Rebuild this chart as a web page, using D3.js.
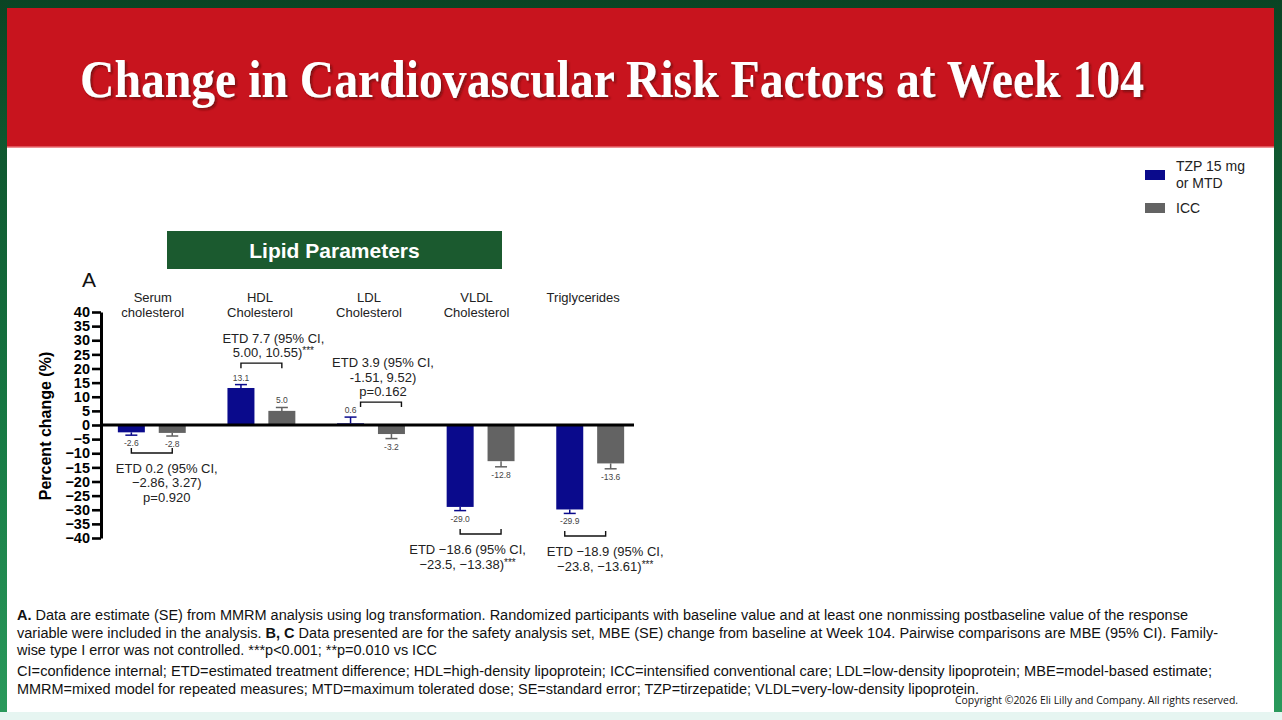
<!DOCTYPE html>
<html>
<head>
<meta charset="utf-8">
<script src="https://cdn.jsdelivr.net/npm/d3@7"></script>
<style>
  body { margin: 0; background: #fff; }
  svg { display: block; }
</style>
</head>
<body>
<script>
// data
const categories = ["Serum cholesterol", "HDL Cholesterol", "LDL Cholesterol", "VLDL Cholesterol", "Triglycerides"];
const categoryLines = [["Serum", "cholesterol"], ["HDL", "Cholesterol"], ["LDL", "Cholesterol"], ["VLDL", "Cholesterol"], ["Triglycerides"]];
const series = ["TZP 15 mg or MTD", "ICC"];
const tzpValues = [-2.6, 13.1, 0.6, -29.0, -29.9];
const iccValues = [-2.8, 5.0, -3.2, -12.8, -13.6];
const tzpSE = [1.0, 1.2, 2.2, 1.3, 1.4];
const iccSE = [1.1, 1.2, 1.6, 2.0, 1.9];
const yTicks = d3.range(-40, 41, 5);
const etdText = [
  ["ETD 0.2 (95% CI,", "\u22122.86, 3.27)", "p=0.920"],
  ["ETD 7.7 (95% CI,", "5.00, 10.55)***"],
  ["ETD 3.9 (95% CI,", "-1.51, 9.52)", "p=0.162"],
  ["ETD \u221218.6 (95% CI,", "\u221223.5, \u221213.38)***"],
  ["ETD \u221218.9 (95% CI,", "\u221223.8, \u221213.61)***"]
];
// where each ETD bracket sits (y in %), text / label shifts
const etdBracketAt = [-9.9, 21.9, 8.1, -38.6, -39.3];
const etdTextShift = [15, 12, 12, -13, 15];
const bracketShift = [0, 0, 10, 0, -5];
const labelShift = [1, -1.5, -2, -4, -7];

const W = 1282, H = 720;
const colors = ["#0a0a8c", "#636363"];
const font = "'Liberation Sans', Arial, sans-serif";

const svg = d3.select("body").append("svg")
    .attr("width", W)
    .attr("height", H);

// slide background
const grad = svg.append("defs").append("linearGradient")
    .attr("id", "bg").attr("x1", 0).attr("y1", 0).attr("x2", 0).attr("y2", 1);
grad.append("stop").attr("offset", "0%").attr("stop-color", "#0a4424");
grad.append("stop").attr("offset", "60%").attr("stop-color", "#177a44");
grad.append("stop").attr("offset", "100%").attr("stop-color", "#2a9a5c");
svg.append("rect").attr("width", W).attr("height", H).attr("fill", "url(#bg)");
svg.append("rect").attr("x", 0).attr("y", 712).attr("width", W).attr("height", 8).attr("fill", "#e6f5f1");

svg.append("rect").attr("x", 7).attr("y", 8).attr("width", 1267).attr("height", 704).attr("fill", "#fff");
svg.append("rect").attr("x", 7).attr("y", 8).attr("width", 1267).attr("height", 139).attr("fill", "#c8141e");
svg.append("line").attr("x1", 7).attr("x2", 1274).attr("y1", 147).attr("y2", 147)
    .attr("stroke", "#e86a70").attr("stroke-width", 1.5);

// title
const shadow = svg.append("filter").attr("id", "sh");
shadow.append("feDropShadow").attr("dx", 2).attr("dy", 2).attr("stdDeviation", 1)
    .attr("flood-color", "#6a0a0e").attr("flood-opacity", 0.8);
svg.append("text")
    .text("Change in Cardiovascular Risk Factors at Week 104")
    .attr("x", 80).attr("y", 97)
    .attr("textLength", 1064).attr("lengthAdjust", "spacingAndGlyphs")
    .style("font-family", "'Liberation Serif', 'Times New Roman', serif")
    .style("font-weight", "bold")
    .style("font-size", "53px")
    .attr("fill", "#fff")
    .attr("filter", "url(#sh)");

// panel header
svg.append("rect").attr("x", 167).attr("y", 231).attr("width", 335).attr("height", 38).attr("fill", "#1b5a2f");
svg.append("text").text("Lipid Parameters")
    .attr("x", 334.5).attr("y", 258)
    .attr("text-anchor", "middle")
    .style("font-family", font)
    .style("font-weight", "bold").style("font-size", "21px")
    .attr("fill", "#fff");

svg.append("text").text("A")
    .attr("x", 82).attr("y", 287)
    .style("font-family", font)
    .style("font-size", "21px").attr("fill", "#111");

// scales
const y = d3.scaleLinear().domain([-40, 40]).range([538, 312]);
const x0 = d3.scaleBand().domain(categories).range([97, 645]);
const x1 = d3.scaleBand().domain(series).range([0, x0.bandwidth()])
    .paddingInner(0.34).paddingOuter(0.51);

// y axis
const yAxis = svg.append("g")
    .attr("transform", "translate(101,0)")
    .call(d3.axisLeft(y).tickValues(yTicks).tickSize(9).tickPadding(2).tickSizeOuter(0));
yAxis.select(".domain").attr("stroke", "#000").attr("stroke-width", 3);
yAxis.selectAll(".tick line").attr("stroke", "#000").attr("stroke-width", 2.6);
yAxis.selectAll(".tick text")
    .style("font-family", font).style("font-weight", "bold").style("font-size", "14.5px")
    .attr("fill", "#000");

svg.append("text").text("Percent change (%)")
    .attr("transform", `translate(51,${y(0) + 1}) rotate(-90)`)
    .attr("text-anchor", "middle")
    .style("font-family", font).style("font-weight", "bold").style("font-size", "16px")
    .attr("fill", "#000");

// category labels
categoryLines.forEach((lines, i) => {
    const cx = x0(categories[i]) + x0.bandwidth() / 2 + labelShift[i];
    svg.append("text")
        .attr("y", 302)
        .attr("text-anchor", "middle")
        .style("font-family", font).style("font-size", "13px")
        .attr("fill", "#222")
        .selectAll("tspan")
        .data(lines)
        .enter()
        .append("tspan")
        .attr("x", cx)
        .attr("dy", (d, j) => j === 0 ? 0 : 14.5)
        .text(d => d);
});

// bars
const rows = categories.map((c, i) => ({
    cat: c,
    vals: [
        { s: series[0], v: tzpValues[i], se: tzpSE[i], k: 0 },
        { s: series[1], v: iccValues[i], se: iccSE[i], k: 1 }
    ]
}));

const groups = svg.selectAll("g.grp")
    .data(rows)
    .enter()
    .append("g")
    .attr("class", "grp")
    .attr("transform", d => `translate(${x0(d.cat)},0)`);

groups.selectAll("rect")
    .data(d => d.vals)
    .enter()
    .append("rect")
    .attr("x", d => x1(d.s))
    .attr("y", d => y(Math.max(0, d.v)))
    .attr("width", x1.bandwidth())
    .attr("height", d => Math.abs(y(d.v) - y(0)))
    .attr("fill", d => colors[d.k]);

// error bars
const errEnd = d => d.v >= 0 ? d.v + d.se : d.v - d.se;
groups.selectAll("line.err")
    .data(d => d.vals)
    .enter()
    .append("line")
    .attr("class", "err")
    .attr("x1", d => x1(d.s) + x1.bandwidth() / 2)
    .attr("x2", d => x1(d.s) + x1.bandwidth() / 2)
    .attr("y1", d => y(d.v))
    .attr("y2", d => y(errEnd(d)))
    .attr("stroke", d => colors[d.k]).attr("stroke-width", 1.5);
groups.selectAll("line.cap")
    .data(d => d.vals)
    .enter()
    .append("line")
    .attr("class", "cap")
    .attr("x1", d => x1(d.s) + x1.bandwidth() / 2 - 6)
    .attr("x2", d => x1(d.s) + x1.bandwidth() / 2 + 6)
    .attr("y1", d => y(errEnd(d)))
    .attr("y2", d => y(errEnd(d)))
    .attr("stroke", d => colors[d.k]).attr("stroke-width", 1.5);

groups.selectAll("text.val")
    .data(d => d.vals)
    .enter()
    .append("text")
    .attr("class", "val")
    .attr("x", d => x1(d.s) + x1.bandwidth() / 2)
    .attr("y", d => d.v >= 0 ? y(errEnd(d)) - 4 : y(errEnd(d)) + 11)
    .attr("text-anchor", "middle")
    .style("font-family", font).style("font-size", "8.5px")
    .attr("fill", "#444")
    .text(d => d.v.toFixed(1));

// zero line
svg.append("line")
    .attr("x1", 101).attr("x2", 634)
    .attr("y1", y(0)).attr("y2", y(0))
    .attr("stroke", "#000").attr("stroke-width", 3);

// ETD brackets and labels
rows.forEach((r, i) => {
    const gx = x0(r.cat);
    const xa = gx + x1(series[0]) + x1.bandwidth() / 2 + bracketShift[i];
    const xb = gx + x1(series[1]) + x1.bandwidth() / 2 + bracketShift[i];
    const by = y(etdBracketAt[i]);
    const below = etdBracketAt[i] < 0;
    const tickDir = below ? -5 : 5;
    svg.append("path")
        .attr("d", `M${xa},${by + tickDir}V${by}H${xb}V${by + tickDir}`)
        .attr("fill", "none").attr("stroke", "#111").attr("stroke-width", 1.4);

    const cx = gx + x0.bandwidth() / 2 + etdTextShift[i];
    const lines = etdText[i];
    const first = below ? by + 20 : by - 6 - (lines.length - 1) * 14.5;
    const t = svg.append("text")
        .attr("text-anchor", "middle")
        .style("font-family", font).style("font-size", "13px")
        .attr("fill", "#222");
    lines.forEach((ln, j) => {
        const stars = ln.endsWith("***");
        const main = stars ? ln.slice(0, -3) : ln;
        const ts = t.append("tspan").attr("x", cx).attr("y", first + j * 14.5);
        ts.append("tspan").text(main);
        if (stars) {
            ts.append("tspan").text("***").style("font-size", "10px").attr("dy", -3);
        }
    });
});

// legend
const legend = svg.append("g").attr("transform", "translate(1145,0)");
legend.append("rect").attr("x", 0).attr("y", 170).attr("width", 20).attr("height", 10).attr("fill", colors[0]);
legend.append("rect").attr("x", 0).attr("y", 203).attr("width", 20).attr("height", 10).attr("fill", colors[1]);
const legText = legend.append("text")
    .style("font-family", font).style("font-size", "14px").attr("fill", "#222");
legText.append("tspan").attr("x", 31).attr("y", 171).text("TZP 15 mg");
legText.append("tspan").attr("x", 31).attr("y", 188).text("or MTD");
legend.append("text").attr("x", 31).attr("y", 213).text("ICC")
    .style("font-family", font).style("font-size", "14px").attr("fill", "#222");

// footnotes
const notes = [
    { y: 620, len: 1171, parts: [["A.", true], [" Data are estimate (SE) from MMRM analysis using log transformation. Randomized participants with baseline value and at least one nonmissing postbaseline value of the response", false]] },
    { y: 638, len: 1201, parts: [["variable were included in the analysis. ", false], ["B, C", true], [" Data presented are for the safety analysis set, MBE (SE) change from baseline at Week 104. Pairwise comparisons are MBE (95% CI). Family-", false]] },
    { y: 655, len: 420, parts: [["wise type I error was not controlled. ***p<0.001; **p=0.010 vs ICC", false]] },
    { y: 676, len: 1195, parts: [["CI=confidence internal; ETD=estimated treatment difference; HDL=high-density lipoprotein; ICC=intensified conventional care; LDL=low-density lipoprotein; MBE=model-based estimate;", false]] },
    { y: 694, len: 962, parts: [["MMRM=mixed model for repeated measures; MTD=maximum tolerated dose; SE=standard error; TZP=tirzepatide; VLDL=very-low-density lipoprotein.", false]] }
];
notes.forEach(n => {
    const t = svg.append("text")
        .attr("x", 17).attr("y", n.y)
        .attr("textLength", n.len).attr("lengthAdjust", "spacingAndGlyphs")
        .style("font-family", font).style("font-size", "14px")
        .attr("fill", "#111");
    n.parts.forEach(p => {
        t.append("tspan").text(p[0]).style("font-weight", p[1] ? "bold" : "normal");
    });
});

svg.append("text")
    .text("Copyright \u00a92026 Eli Lilly and Company. All rights reserved.")
    .attr("x", 955).attr("y", 704)
    .attr("textLength", 283).attr("lengthAdjust", "spacingAndGlyphs")
    .style("font-family", "'Open Sans', sans-serif").style("font-size", "10px")
    .attr("fill", "#111");
</script>
</body>
</html>
